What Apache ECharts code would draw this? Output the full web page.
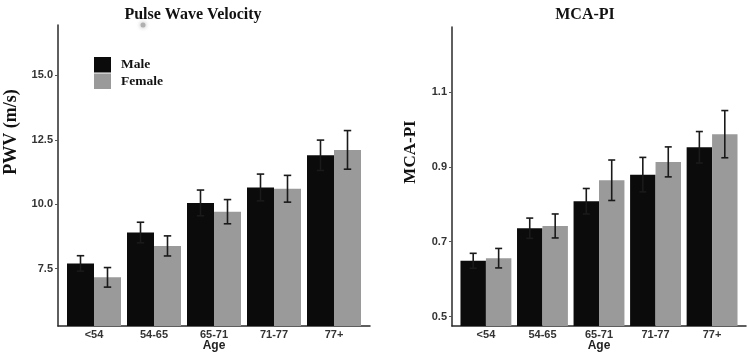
<!DOCTYPE html>
<html>
<head>
<meta charset="utf-8">
<script src="https://cdn.jsdelivr.net/npm/echarts@6/dist/echarts.min.js"></script>
<style>
html,body{margin:0;padding:0;background:#fff;}
#chart{width:750px;height:355px;}
</style>
</head>
<body>
<div id="chart"></div>
<script>
// ---- data ----
var categories = ['<54', '54-65', '65-71', '71-77', '77+'];
var seriesNames = ['Male', 'Female'];

var pwvMale      = [7.70, 8.90, 10.05, 10.65, 11.90];
var pwvMaleErr   = [0.30, 0.40, 0.50, 0.52, 0.59];
var pwvFemale    = [7.16, 8.38, 9.71, 10.60, 12.11];
var pwvFemaleErr = [0.38, 0.39, 0.47, 0.52, 0.75];

var mcaMale      = [0.649, 0.736, 0.808, 0.879, 0.952];
var mcaMaleErr   = [0.020, 0.027, 0.034, 0.046, 0.042];
var mcaFemale    = [0.656, 0.742, 0.864, 0.913, 0.987];
var mcaFemaleErr = [0.026, 0.032, 0.054, 0.040, 0.063];

var pwvTicks = [7.5, 10.0, 12.5, 15.0];
var mcaTicks = [0.5, 0.7, 0.9, 1.1];

// ---- styles ----
var MALE_COLOR = '#0b0b0b';
var FEMALE_COLOR = '#9a9a9a';
var AXIS_COLOR = '#2a2a2a';
var SANS = 'Liberation Sans, Arial, sans-serif';
var SERIF = 'Liberation Serif, Times New Roman, serif';

var chart = echarts.init(document.getElementById('chart'), null, {renderer: 'canvas'});

function errSeries(name, xAxisIndex, yAxisIndex, vals, errs, side) {
  return {
    type: 'custom',
    name: name,
    xAxisIndex: xAxisIndex,
    yAxisIndex: yAxisIndex,
    z: 10,
    silent: true,
    data: vals.map(function (v, i) { return [i, v - errs[i], v + errs[i]]; }),
    renderItem: function (params, api) {
      var band = api.size([1, 0])[0];
      var lo = api.coord([api.value(0), api.value(1)]);
      var hi = api.coord([api.value(0), api.value(2)]);
      var x = lo[0] + side * band * 0.225;
      var cap = band * 0.062;
      var st = {stroke: '#1a1a1a', lineWidth: 1.6};
      return {
        type: 'group',
        children: [
          {type: 'line', shape: {x1: x, y1: lo[1], x2: x, y2: hi[1]}, style: st},
          {type: 'line', shape: {x1: x - cap, y1: hi[1], x2: x + cap, y2: hi[1]}, style: st},
          {type: 'line', shape: {x1: x - cap, y1: lo[1], x2: x + cap, y2: lo[1]}, style: st}
        ]
      };
    }
  };
}

function barSeries(name, xAxisIndex, yAxisIndex, vals, color) {
  return {
    type: 'bar',
    name: name,
    xAxisIndex: xAxisIndex,
    yAxisIndex: yAxisIndex,
    data: vals,
    barCategoryGap: '10%',
    barGap: '0%',
    itemStyle: {color: color},
    emphasis: {disabled: true}
  };
}

var yMinL = 5.27, yMaxL = 16.96;
var yMinR = 0.475, yMaxR = 1.273;

var tickLabelStyle = {fontFamily: SANS, fontWeight: 'bold', fontSize: 11, color: '#333'};

function frameY(gridIndex, min, max, ticks, fmt) {
  return {
    type: 'value', gridIndex: gridIndex, min: min, max: max,
    axisLine: {show: true, lineStyle: {color: AXIS_COLOR, width: 1.5}},
    axisTick: {show: true, length: 3, customValues: ticks, lineStyle: {color: '#555'}},
    axisLabel: Object.assign({show: true, margin: 5, customValues: ticks, formatter: fmt}, tickLabelStyle),
    splitLine: {show: false}
  };
}
function hiddenY(gridIndex, min, max) {
  return {type: 'value', gridIndex: gridIndex, min: min, max: max, show: false, splitLine: {show: false}};
}
function frameX(gridIndex) {
  return {
    type: 'value', gridIndex: gridIndex, min: 0, max: 1,
    axisLine: {show: true, onZero: false, lineStyle: {color: AXIS_COLOR, width: 1.5}},
    axisTick: {show: false}, axisLabel: {show: false}, splitLine: {show: false},
    name: 'Age', nameLocation: 'middle', nameGap: 14,
    nameTextStyle: {fontFamily: SANS, fontWeight: 'bold', fontSize: 12, color: '#222', verticalAlign: 'top'}
  };
}
function dataX(gridIndex) {
  return {
    type: 'category', gridIndex: gridIndex, data: categories,
    axisLine: {show: false}, axisTick: {show: false},
    axisLabel: Object.assign({margin: 3, interval: 0}, tickLabelStyle),
    splitLine: {show: false}
  };
}

var option = {
  backgroundColor: '#ffffff',
  animation: false,
  title: [
    {text: 'Pulse Wave Velocity', left: 188, top: 2, textAlign: 'center',
     textStyle: {fontFamily: SERIF, fontWeight: 'bold', fontSize: 16, color: '#111'}},
    {text: 'MCA-PI', left: 580, top: 2, textAlign: 'center',
     textStyle: {fontFamily: SERIF, fontWeight: 'bold', fontSize: 16, color: '#111'}}
  ],
  legend: {
    data: seriesNames,
    orient: 'vertical',
    left: 89, top: 52,
    icon: 'rect',
    itemWidth: 17, itemHeight: 15.5, itemGap: 1,
    selectedMode: false,
    textStyle: {fontFamily: SERIF, fontWeight: 'bold', fontSize: 13.5, color: '#111', padding: [0, 0, 0, 5]}
  },
  grid: [
    {left: 58, right: 380, top: 25, bottom: 29, outerBoundsMode: 'none', containLabel: false},
    {left: 64, right: 386, top: 25, bottom: 29, outerBoundsMode: 'none', containLabel: false},
    {left: 452, right: 4, top: 27, bottom: 29, outerBoundsMode: 'none', containLabel: false},
    {left: 457.65, right: 9.65, top: 27, bottom: 29, outerBoundsMode: 'none', containLabel: false}
  ],
  xAxis: [frameX(0), dataX(1), frameX(2), dataX(3)],
  yAxis: [
    frameY(0, yMinL, yMaxL, pwvTicks, function (v) { return v.toFixed(1); }),
    hiddenY(1, yMinL, yMaxL),
    frameY(2, yMinR, yMaxR, mcaTicks, function (v) { return v.toFixed(1); }),
    hiddenY(3, yMinR, yMaxR)
  ],
  graphic: [
    {type: 'text', x: 11, y: 132, rotation: Math.PI / 2,
     style: {text: 'PWV (m/s)', font: 'bold 18px ' + SERIF, fill: '#111', align: 'center', verticalAlign: 'middle'}},
    {type: 'text', x: 411, y: 152, rotation: Math.PI / 2,
     style: {text: 'MCA-PI', font: 'bold 17px ' + SERIF, fill: '#111', align: 'center', verticalAlign: 'middle'}},
    {type: 'circle', shape: {cx: 143, cy: 25, r: 2.5},
     style: {fill: '#b0b0b0', shadowBlur: 4, shadowColor: '#aaaaaa'}}
  ],
  series: [
    barSeries('Male', 1, 1, pwvMale, MALE_COLOR),
    barSeries('Female', 1, 1, pwvFemale, FEMALE_COLOR),
    errSeries('MaleErr', 1, 1, pwvMale, pwvMaleErr, -1),
    errSeries('FemaleErr', 1, 1, pwvFemale, pwvFemaleErr, 1),
    barSeries('Male', 3, 3, mcaMale, MALE_COLOR),
    barSeries('Female', 3, 3, mcaFemale, FEMALE_COLOR),
    errSeries('MaleErr', 3, 3, mcaMale, mcaMaleErr, -1),
    errSeries('FemaleErr', 3, 3, mcaFemale, mcaFemaleErr, 1)
  ]
};
chart.setOption(option);
</script>
</body>
</html>
